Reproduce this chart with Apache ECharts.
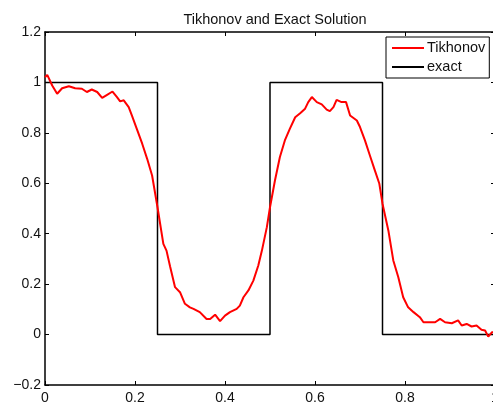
<!DOCTYPE html>
<html>
<head>
<meta charset="utf-8">
<script src="https://cdn.jsdelivr.net/npm/echarts@6/dist/echarts.min.js"></script>
<style>
html,body{margin:0;padding:0;background:#fff;}
#c{width:493px;height:408px;}
</style>
</head>
<body>
<div id="c"></div>
<script>
const titleText = 'Tikhonov and Exact Solution';
const seriesNames = ['Tikhonov', 'exact'];
const xTicks = [0, 0.2, 0.4, 0.6, 0.8, 1];
const yTicks = [-0.2, 0, 0.2, 0.4, 0.6, 0.8, 1, 1.2];

const tikX = [0.000,0.005,0.016,0.027,0.038,0.053,0.067,0.082,0.093,0.104,0.116,0.127,0.138,0.150,0.160,0.167,0.175,0.186,0.193,0.204,0.216,0.227,0.238,0.250,0.263,0.270,0.278,0.289,0.300,0.311,0.322,0.330,0.344,0.359,0.367,0.378,0.389,0.400,0.411,0.426,0.433,0.441,0.452,0.463,0.474,0.482,0.493,0.500,0.511,0.522,0.533,0.544,0.556,0.567,0.578,0.585,0.593,0.604,0.615,0.626,0.633,0.641,0.648,0.659,0.669,0.678,0.693,0.700,0.711,0.722,0.733,0.743,0.750,0.763,0.774,0.785,0.796,0.807,0.819,0.833,0.841,0.856,0.867,0.878,0.889,0.904,0.918,0.926,0.937,0.948,0.959,0.970,0.978,0.985,0.993,1.000];
const tikY = [1.02,1.03,0.988,0.955,0.977,0.985,0.977,0.975,0.962,0.972,0.962,0.939,0.951,0.964,0.942,0.925,0.929,0.902,0.869,0.816,0.757,0.697,0.631,0.505,0.360,0.333,0.270,0.188,0.168,0.122,0.108,0.102,0.089,0.062,0.062,0.079,0.053,0.075,0.089,0.102,0.115,0.148,0.175,0.214,0.274,0.333,0.426,0.505,0.611,0.704,0.770,0.816,0.862,0.878,0.896,0.922,0.942,0.922,0.913,0.892,0.886,0.902,0.931,0.922,0.922,0.869,0.849,0.823,0.770,0.710,0.651,0.598,0.519,0.413,0.294,0.228,0.148,0.108,0.089,0.069,0.049,0.049,0.049,0.062,0.049,0.045,0.056,0.036,0.042,0.032,0.036,0.019,0.016,-0.008,0.009,0.010];

const exactX = [0, 0.25, 0.25, 0.5, 0.5, 0.75, 0.75, 1];
const exactY = [1, 1, 0, 0, 1, 1, 0, 0];

const FONT = '"Liberation Sans", Arial, Helvetica, sans-serif';
const fmt = v => { const r = Math.round(v * 10) / 10; return (r < 0 ? '\u2212' + Math.abs(r) : String(r)); };
const lineIcon = 'path://M0,0H32V2H0Z';

const chart = echarts.init(document.getElementById('c'), null, {renderer: 'canvas'});
const axisLine = {show: true, onZero: false, lineStyle: {color: '#000', width: 1.5}};
const tick = {show: true, inside: true, length: 4, lineStyle: {color: '#000', width: 1}};
chart.setOption({
  animation: false,
  backgroundColor: '#fff',
  title: {
    text: titleText, left: 270, top: 7, textAlign: 'center',
    textStyle: {fontFamily: FONT, fontSize: 14.5, fontWeight: 'normal', color: '#111'}
  },
  legend: {
    orient: 'vertical', left: 386, top: 37,
    data: [{name: seriesNames[0], icon: lineIcon}, {name: seriesNames[1], icon: lineIcon}],
    backgroundColor: '#fff', borderColor: '#000', borderWidth: 1,
    padding: [3, 4, 3, 6], itemGap: 3, itemWidth: 32, itemHeight: 2,
    textStyle: {fontFamily: FONT, fontSize: 14.5, color: '#111', lineHeight: 16, padding: [0, 0, 0, -2]}
  },
  grid: {left: 45, top: 32, width: 450, height: 353, containLabel: false, outerBoundsMode: 'none'},
  xAxis: [{
    type: 'value', min: xTicks[0], max: xTicks[xTicks.length - 1], interval: 0.2,
    position: 'bottom', axisLine: axisLine, axisTick: tick, splitLine: {show: false},
    axisLabel: {formatter: fmt, fontFamily: FONT, fontSize: 14, color: '#111', margin: 6}
  }, {
    type: 'value', min: xTicks[0], max: xTicks[xTicks.length - 1], interval: 0.2,
    position: 'top', axisLine: axisLine, axisTick: tick, splitLine: {show: false},
    axisLabel: {show: false}
  }],
  yAxis: [{
    type: 'value', min: yTicks[0], max: yTicks[yTicks.length - 1], interval: 0.2,
    position: 'left', axisLine: axisLine, axisTick: tick, splitLine: {show: false},
    axisLabel: {formatter: fmt, fontFamily: FONT, fontSize: 14, color: '#111', margin: 4}
  }, {
    type: 'value', min: yTicks[0], max: yTicks[yTicks.length - 1], interval: 0.2,
    position: 'right', axisLine: axisLine, axisTick: tick, splitLine: {show: false},
    axisLabel: {show: false}
  }],
  series: [{
    name: seriesNames[0], type: 'line', symbol: 'none', z: 3,
    data: tikX.map((x, i) => [x, tikY[i]]),
    lineStyle: {color: '#ff0000', width: 2}, itemStyle: {color: '#ff0000'}
  }, {
    name: seriesNames[1], type: 'line', symbol: 'none', z: 2,
    data: exactX.map((x, i) => [x, exactY[i]]),
    lineStyle: {color: '#000', width: 1.5}, itemStyle: {color: '#000'}
  }]
});
</script>
</body>
</html>
